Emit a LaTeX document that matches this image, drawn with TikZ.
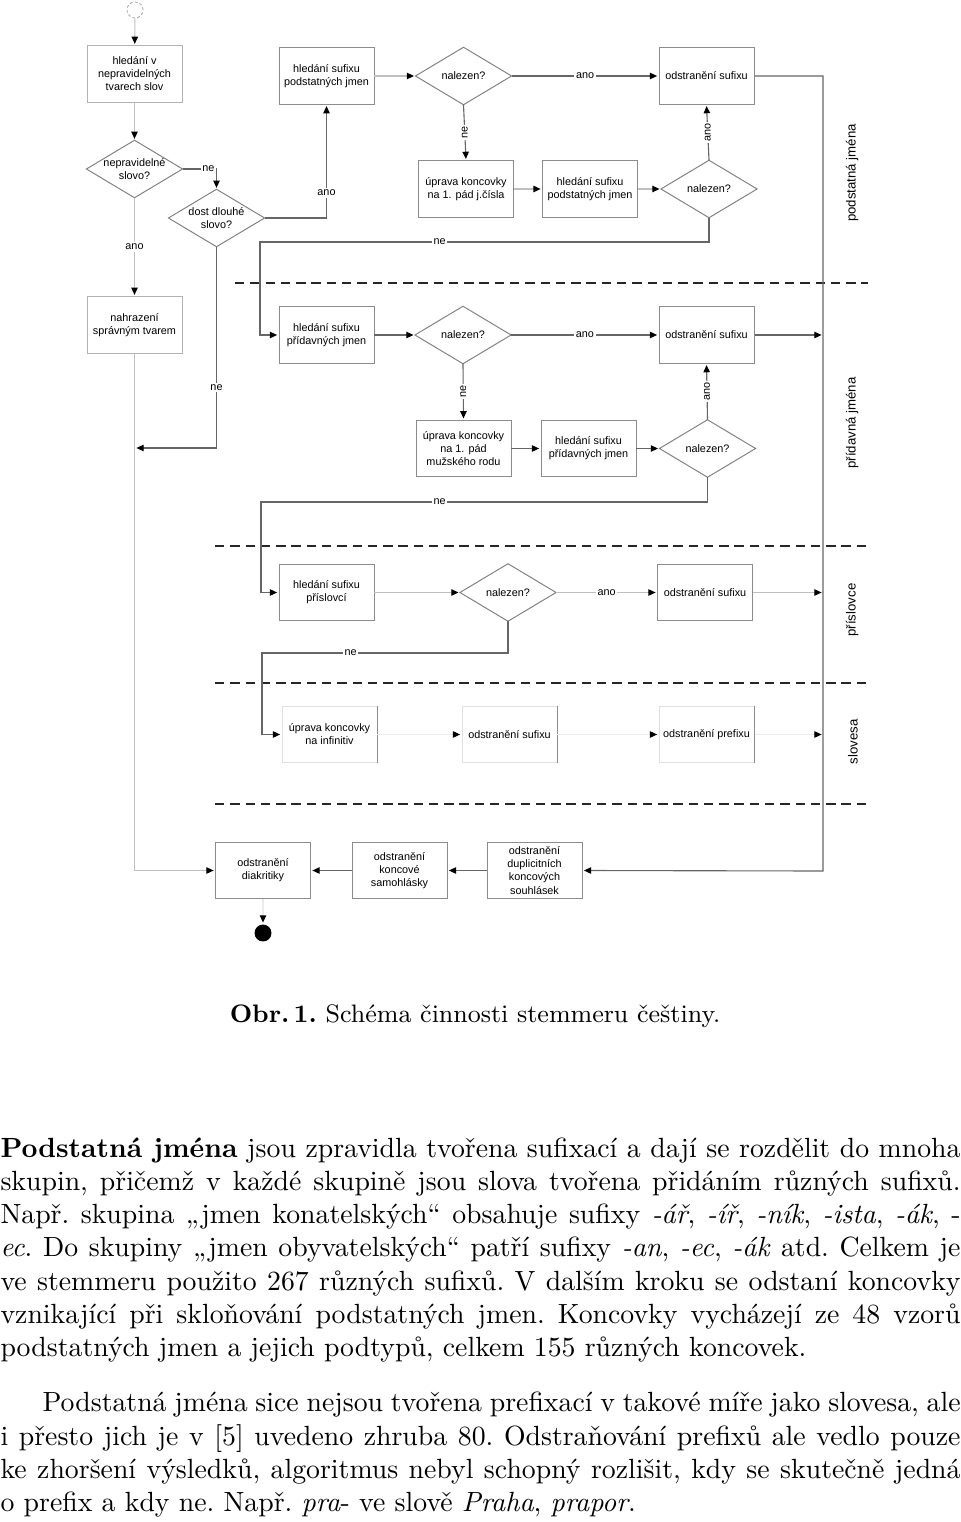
\documentclass[tikz,border=0pt]{standalone}
\usepackage{fontspec}
\newfontfamily\dfam{Liberation Sans}
\usetikzlibrary{arrows.meta}
\begin{document}
\begin{tikzpicture}[x=0.36pt,y=-0.36pt,
  dfont/.style={font=\dfam\fontsize{3.9}{4.7}\selectfont},
  box/.style={dfont, draw=black!45, line width=0.35pt, minimum width=34.2pt, minimum height=20.3pt, inner sep=0pt, align=center},
  fbox/.style={box, draw=black!12},
  dia/.style={dfont, minimum width=34.2pt, minimum height=20.3pt, inner sep=0pt, align=center},
  dline/.style={draw=black!50, line width=0.35pt},
  tip/.style={-{Triangle[length=2.6pt,width=2.3pt,color=black]}, shorten >=0.5pt},
  conn/.style={tip, draw=black!60, line width=0.4pt},
  lconn/.style={tip, draw=black!25, line width=0.4pt},
  vconn/.style={tip, draw=black!8, line width=0.4pt},
  lab/.style={dfont, fill=white, inner sep=0.6pt},
  sep/.style={draw=black!85, line width=0.5pt, dash pattern=on 3.4pt off 2.1pt},
  lane/.style={font=\dfam\fontsize{4.75}{5.5}\selectfont, rotate=90, inner sep=0pt},
  body/.style={anchor=base west, inner sep=0pt, font=\fontsize{10}{12}\selectfont\frenchspacing},
]
\useasboundingbox (0,0) rectangle (960,1522);

% separators
\draw[sep] (235,283) -- (868,283);
\draw[sep] (215,546) -- (868,546);
\draw[sep] (215,683) -- (868,683);
\draw[sep] (215,804) -- (868,804);

% nodes
\node[circle, draw=black!35, dash pattern=on 1pt off 0.8pt, minimum size=5.8pt, inner sep=0pt, line width=0.3pt] (start) at (135,10) {};
\node[box, draw=black!30] (b1) at (134.5,74) {hledání v\\nepravidelných\\tvarech slov};
\node[dia] (d1) at (134.5,169) {nepravidelné\\slovo?};
\node[dia] (d2) at (216.5,218) {dost dlouhé\\slovo?};
\node[box, draw=black!30] (b2) at (134.5,325) {nahrazení\\správným tvarem};
\node[box] (b3) at (326.5,76) {hledání sufixu\\podstatných jmen};
\node[dia] (d3) at (463.5,76) {nalezen?};
\node[box] (b4) at (706.5,76) {odstranění sufixu};
\node[box] (b5) at (466,189) {úprava koncovky\\na 1. pád j.čísla};
\node[box] (b6) at (590,189) {hledání sufixu\\podstatných jmen};
\node[dia] (d4) at (709,189) {nalezen?};

\node[box] (b7) at (326.5,335) {hledání sufixu\\přídavných jmen};
\node[dia] (d5) at (463,335) {nalezen?};
\node[box] (b8) at (706.5,335) {odstranění sufixu};
\node[box] (b9) at (463.5,448.5) {úprava koncovky\\na 1. pád\\mužského rodu};
\node[box] (b10) at (588.5,448.5) {hledání sufixu\\přídavných jmen};
\node[dia] (d6) at (707.5,448.5) {nalezen?};

\node[box] (b11) at (326.5,592.5) {hledání sufixu\\příslovcí};
\node[dia] (d7) at (508,592.5) {nalezen?};
\node[box] (b12) at (705,592.5) {odstranění sufixu};

\node[fbox] (b13) at (329.5,734.5) {úprava koncovky\\na infinitiv};
\node[fbox] (b14) at (509.5,734.5) {odstranění sufixu};
\node[fbox] (b15) at (706.5,734.5) {odstranění prefixu};
\foreach \n in {b13,b14,b15} \draw[draw=black!45, line width=0.35pt] (\n.north east) -- (\n.south east);

\node[box] (b16) at (263,870.5) {odstranění\\diakritiky};
\node[box] (b17) at (399.5,870.5) {odstranění\\koncové\\samohlásky};
\node[box] (b18) at (534.5,870.5) {odstranění\\duplicitních\\koncových\\souhlásek};
\node[circle, fill=black, minimum size=6.1pt, inner sep=0pt] (end) at (263,933) {};

\foreach \n in {d1,d2,d3,d4,d5,d6,d7}
  \draw[dline] (\n.north) -- (\n.east) -- (\n.south) -- (\n.west) -- cycle;

% lane labels
\node[lane] (lp) at (852,173) {podstatná jména};
\node[lane] (la) at (852,423) {přídavná jména};
\node[lane] (lr) at (852,610) {příslovce};
\node[lane] (lv) at (853,742) {slovesa};

% coordinates
\coordinate (r1) at (823,76);
\coordinate (r2) at (823,871);
\coordinate (j1) at (135,448);
\coordinate (c1) at (260,242);
\coordinate (c2) at (261,502);
\coordinate (c3) at (262,653);

% connectors: entry
\draw[lconn] (start) -- (b1);
\draw[lconn] (b1) -- (d1);
\draw[conn] (d1.east) -| node[lab, pos=0.38] {ne} (d2.north);
\draw[lconn] (d1.south) -- node[lab] {ano} (b2.north);
\draw[conn] (d2.east) -| node[lab, pos=0.61] {ano} (b3.south);
\draw[conn] (d2.south) |- node[lab, pos=0.35] {ne} (j1);
\draw[lconn] (b2.south) |- (b16.west);

% row 1
\draw[lconn] (b3.east) -- (d3.west);
\draw[conn] (d3.east) -- node[lab] {ano} (b4.west);
\draw[conn] (d3.south) -- node[lab, rotate=90] {ne} (b5.north);
\draw[lconn] (b5.east) -- (b6.west);
\draw[lconn] (b6.east) -- (d4.west);
\draw[conn] (d4.north) -- node[lab, rotate=90] {ano} (b4.south);
\draw[conn] (d4.south) |- node[lab, pos=0.8] {ne} (c1) |- (b7.west);
\draw[conn] (b4.east) -- (r1) -- (r2) -- (b18.east);

% row 2
\draw[conn] (b7.east) -- (d5.west);
\draw[conn] (d5.east) -- node[lab] {ano} (b8.west);
\draw[conn] (b8.east) -- (b8.east -| r1);
\draw[conn] (d5.south) -- node[lab, rotate=90] {ne} (b9.north);
\draw[conn] (b9.east) -- (b10.west);
\draw[conn] (b10.east) -- (d6.west);
\draw[conn] (d6.north) -- node[lab, rotate=90] {ano} (b8.south);
\draw[conn] (d6.south) |- node[lab, pos=0.8] {ne} (c2) |- (b11.west);

% row 3
\draw[lconn] (b11.east) -- (d7.west);
\draw[lconn] (d7.east) -- node[lab] {ano} (b12.west);
\draw[lconn] (b12.east) -- (b12.east -| r1);
\draw[conn] (d7.south) |- node[lab, pos=0.82] {ne} (c3) |- (b13.west);

% row 4
\draw[vconn] (b13.east) -- (b14.west);
\draw[vconn] (b14.east) -- (b15.west);
\draw[vconn] (b15.east) -- (b15.east -| r1);

% bottom
\draw[conn] (b18.west) -- (b17.east);
\draw[conn] (b17.west) -- (b16.east);
\draw[vconn] (b16.south) -- (end);

% caption
\node[anchor=base, inner sep=0pt, font=\fontsize{9.1}{11}\selectfont\frenchspacing] (cap) at (475,1022) {\textbf{Obr.\,1.} Schéma činnosti stemmeru češtiny.};

% body text
\node[body] (p1) at (0,1157) {\makebox[345.6pt][s]{\textbf{Podstatná jména} jsou zpravidla tvořena sufixací a dají se rozdělit do mnoha}};
\node[body] (p2) at (0,1190.3) {\makebox[345.6pt][s]{skupin, přičemž v každé skupině jsou slova tvořena přidáním různých sufixů.}};
\node[body] (p3) at (0,1223.6) {\makebox[345.6pt][s]{Např. skupina „jmen konatelských“ obsahuje sufixy \emph{-ář}, \emph{-íř}, \emph{-ník}, \emph{-ista}, \emph{-ák}, -}};
\node[body] (p4) at (0,1256.9) {\makebox[345.6pt][s]{\emph{ec}. Do skupiny „jmen obyvatelských“ patří sufixy \emph{-an}, \emph{-ec}, \emph{-ák} atd. Celkem je}};
\node[body] (p5) at (0,1290.2) {\makebox[345.6pt][s]{ve stemmeru použito 267 různých sufixů. V dalším kroku se odstaní koncovky}};
\node[body] (p6) at (0,1323.5) {\makebox[345.6pt][s]{vznikající při skloňování podstatných jmen. Koncovky vycházejí ze 48 vzorů}};
\node[body] (p7) at (0,1356.8) {podstatných jmen a jejich podtypů, celkem 155 různých koncovek.};
\node[body] (q1) at (42,1411.7) {\makebox[330.5pt][s]{Podstatná jména sice nejsou tvořena prefixací v takové míře jako slovesa, ale}};
\node[body] (q2) at (0,1445) {\makebox[345.6pt][s]{i přesto jich je v [5] uvedeno zhruba 80. Odstraňování prefixů ale vedlo pouze}};
\node[body] (q3) at (0,1478.3) {\makebox[345.6pt][s]{ke zhoršení výsledků, algoritmus nebyl schopný rozlišit, kdy se skutečně jedná}};
\node[body] (q4) at (0,1511.6) {o prefix a kdy ne. Např. \emph{pra}- ve slově \emph{Praha}, \emph{prapor}.};
\end{tikzpicture}
\end{document}
